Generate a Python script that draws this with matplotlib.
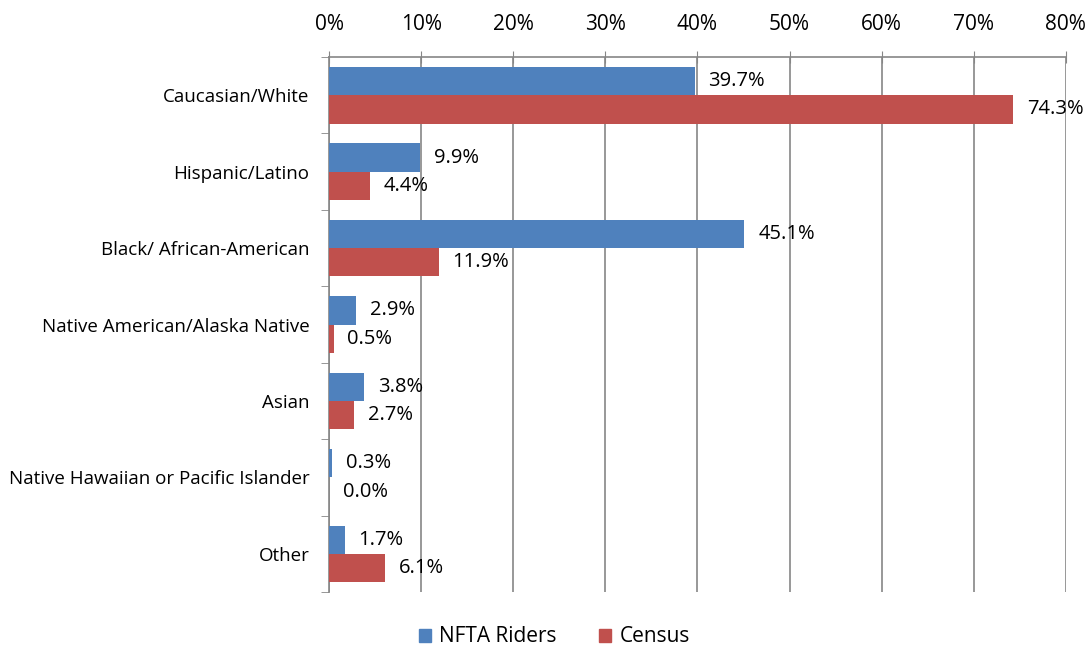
import matplotlib.pyplot as plt
import numpy as np
from matplotlib.patches import Patch

plt.rcParams['font.family'] = ['Open Sans', 'DejaVu Sans']

categories = ['Caucasian/White',
              'Hispanic/Latino',
              'Black/ African-American',
              'Native American/Alaska Native',
              'Asian',
              'Native Hawaiian or Pacific Islander',
              'Other']
nfta_riders = [39.7, 9.9, 45.1, 2.9, 3.8, 0.3, 1.7]
census = [74.3, 4.4, 11.9, 0.5, 2.7, 0.0, 6.1]
xticks = [0, 10, 20, 30, 40, 50, 60, 70, 80]

blue = '#4F81BD'
red = '#C0504D'
grid_col = '#868686'

fig = plt.figure(figsize=(10.91, 6.48), dpi=100)
ax = fig.add_axes([0.3016, 0.0864, 0.6754, 0.8256])

y = np.arange(len(categories))
h = 0.37
ax.barh(y - h / 2, nfta_riders, height=h, color=blue, zorder=3)
ax.barh(y + h / 2, census, height=h, color=red, zorder=3)

for i in range(len(categories)):
    ax.text(nfta_riders[i] + 1.5, y[i] - h / 2, '{:.1f}%'.format(nfta_riders[i]),
            va='center', ha='left', fontsize=14.5)
    ax.text(census[i] + 1.5, y[i] + h / 2, '{:.1f}%'.format(census[i]),
            va='center', ha='left', fontsize=14.5)

ax.set_xlim(0, 80)
ax.set_ylim(len(categories) - 0.5, -0.5)
ax.xaxis.tick_top()
ax.set_xticks(xticks)
ax.set_xticklabels(['{}%'.format(t) for t in xticks], fontsize=15)
ax.tick_params(axis='x', direction='inout', length=8, color=grid_col, pad=12)
ax.grid(axis='x', color=grid_col, linewidth=1.2, zorder=0)

ax.set_yticks(y)
ax.set_yticklabels(categories, fontsize=13.5)
ax.tick_params(axis='y', length=0, pad=14)
ax.set_yticks(np.arange(len(categories) + 1) - 0.5, minor=True)
ax.tick_params(axis='y', which='minor', length=6, color=grid_col, direction='out')

for s in ['right', 'bottom']:
    ax.spines[s].set_visible(False)
for s in ['top', 'left']:
    ax.spines[s].set_color(grid_col)
    ax.spines[s].set_linewidth(1.2)

handles = [Patch(color=blue, label='NFTA Riders'), Patch(color=red, label='Census')]
fig.legend(handles=handles, loc='center', bbox_to_anchor=(0.508, 0.017), ncol=2,
           frameon=False, fontsize=15, handlelength=0.6, handleheight=0.6,
           columnspacing=2.0, handletextpad=0.4)

fig.savefig('out.png', dpi=100)
